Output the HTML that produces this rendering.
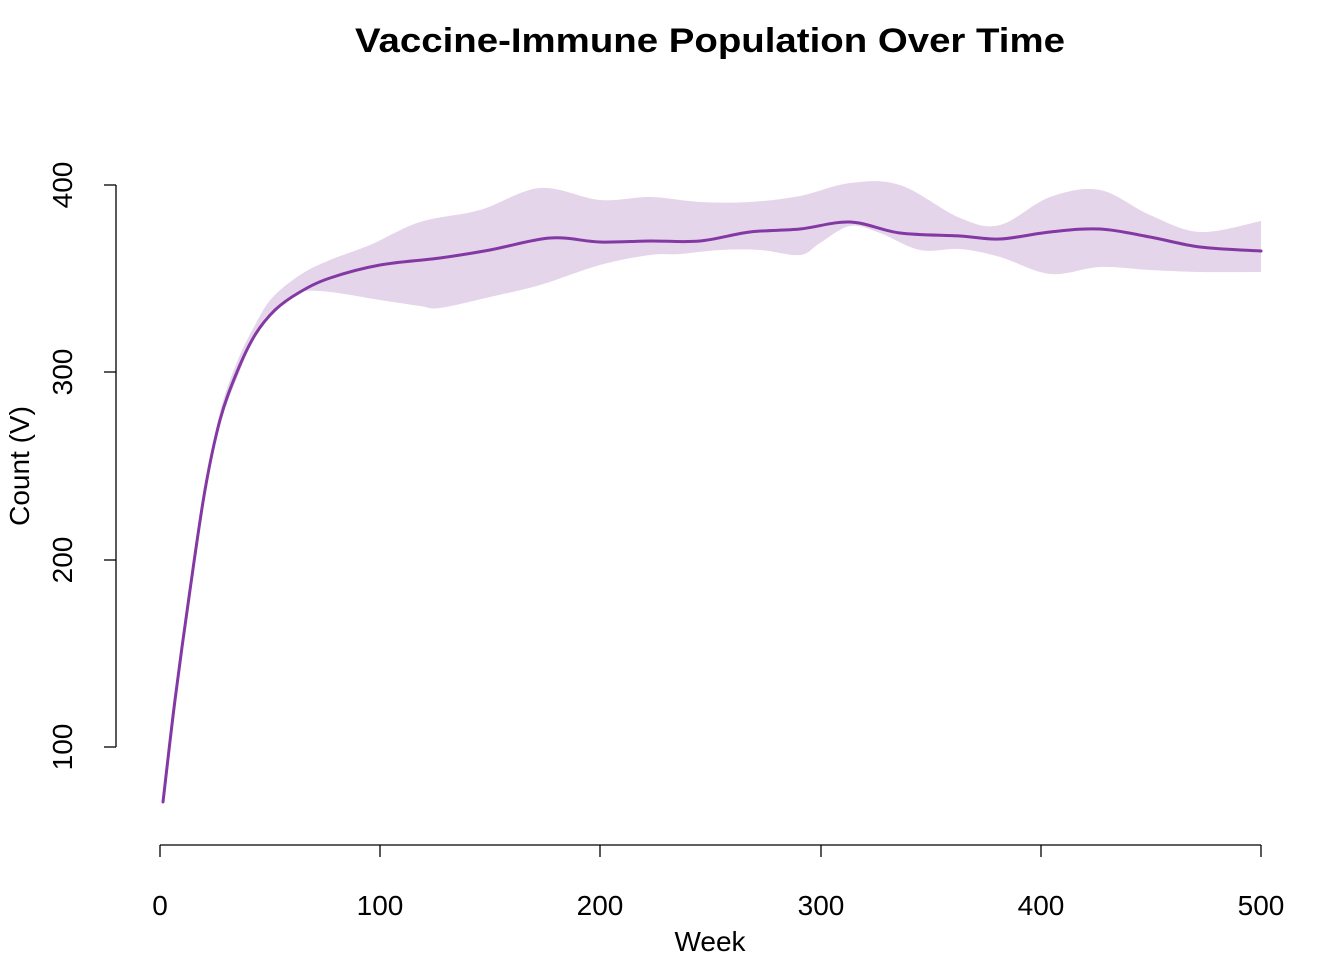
<!DOCTYPE html>
<html><head><meta charset="utf-8"><style>
body{margin:0;background:#fff}
svg{display:block;font-family:"Liberation Sans",Arial,sans-serif}
</style></head><body>
<svg width="1344" height="960" viewBox="0 0 1344 960" xmlns="http://www.w3.org/2000/svg">
<rect width="1344" height="960" fill="#fff"/>
<text x="710" y="52" text-anchor="middle" font-size="34" font-weight="bold" textLength="710" lengthAdjust="spacingAndGlyphs">Vaccine-Immune Population Over Time</text>
<path id="band" fill="#e4d5ea" d=""/>
<path id="line" fill="none" stroke="#8338a3" stroke-width="3" stroke-linejoin="round" stroke-linecap="round" d=""/>
<g stroke="#000" stroke-width="1.3" fill="none">
<line x1="116" y1="185" x2="116" y2="747"/>
<line x1="104" y1="185" x2="116" y2="185"/><line x1="104" y1="372" x2="116" y2="372"/><line x1="104" y1="560" x2="116" y2="560"/><line x1="104" y1="747" x2="116" y2="747"/>
<line x1="160" y1="845" x2="1261" y2="845"/>
<line x1="160" y1="845" x2="160" y2="857"/><line x1="380" y1="845" x2="380" y2="857"/><line x1="600" y1="845" x2="600" y2="857"/><line x1="821" y1="845" x2="821" y2="857"/><line x1="1041" y1="845" x2="1041" y2="857"/><line x1="1261" y1="845" x2="1261" y2="857"/>
</g>
<g font-size="28" text-anchor="middle">
<text x="160" y="915">0</text><text x="380" y="915">100</text><text x="600" y="915">200</text><text x="821" y="915">300</text><text x="1041" y="915">400</text><text x="1261" y="915">500</text>
<text x="710" y="951">Week</text>
<text transform="translate(72,185) rotate(-90)">400</text>
<text transform="translate(72,372) rotate(-90)">300</text>
<text transform="translate(72,560) rotate(-90)">200</text>
<text transform="translate(72,747) rotate(-90)">100</text>
<text transform="translate(29,466) rotate(-90)">Count (V)</text>
</g>
</svg>
<script>
function P(s){return s.trim().split(/\s+/).map(function(p){return p.split(',').map(Number);});}
function spline(pts){var d='M'+pts[0][0]+','+pts[0][1];for(var i=0;i<pts.length-1;i++){var p0=pts[i-1]||pts[i],p1=pts[i],p2=pts[i+1],p3=pts[i+2]||p2;var t=6;d+=' C'+(p1[0]+(p2[0]-p0[0])/t)+','+(p1[1]+(p2[1]-p0[1])/t)+' '+(p2[0]-(p3[0]-p1[0])/t)+','+(p2[1]-(p3[1]-p1[1])/t)+' '+p2[0]+','+p2[1];}return d;}
var mean=P("163,802 175,700 190,590 205,490 220,420 237,372 255,335 275,310 300,292 330,278 380,265 440,258 490,250 550,238 600,242 650,241 700,241 750,232 800,229 850,222 900,233 960,236 1000,239 1050,232 1100,229 1150,237 1200,247 1261,251");
var up=P("163,802 175,700 190,590 205,487 220,412 237,362 255,325 272,298 300,275 330,260 370,245 420,222 480,210 540,188 600,200 650,197 700,202 750,202 800,196 850,183 900,185 960,218 1000,225 1050,197 1100,190 1150,215 1200,232 1261,221");
var lo=P("1261,272 1200,272 1150,270 1100,267 1050,274 1000,257 960,249 920,250 880,233 850,226 820,243 800,255 760,250 720,250 680,254 650,255 600,265 540,285 490,297 440,308 420,306 380,300 330,292 300,292 280,305 260,325 237,378 220,425 205,495 190,595 175,700 163,802");
document.getElementById('line').setAttribute('d',spline(mean));
var b=spline(up)+' L'+spline(lo).slice(1)+' Z';
document.getElementById('band').setAttribute('d',b);
</script>
</body></html>
